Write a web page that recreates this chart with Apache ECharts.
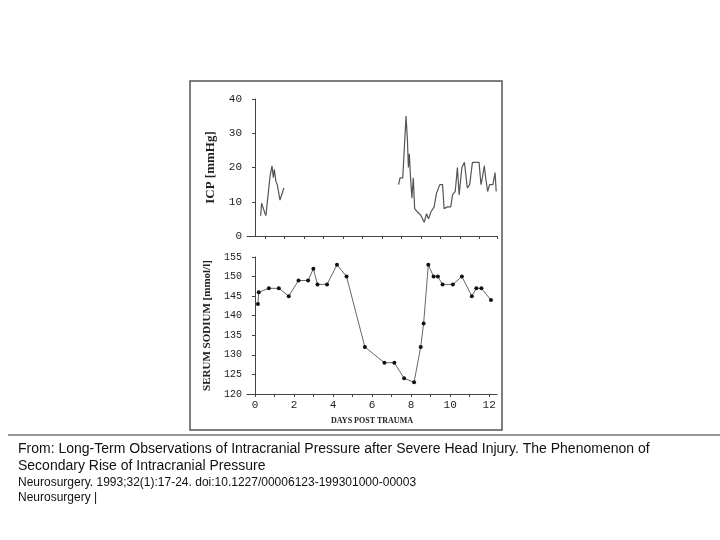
<!DOCTYPE html>
<html><head><meta charset="utf-8">
<script src="https://cdn.jsdelivr.net/npm/echarts@6/dist/echarts.min.js"></script>
<style>html,body{margin:0;padding:0;background:#fff}#c{width:720px;height:540px}</style>
</head><body><div id="c"></div>
<script>
const icpSeg1 = [[0.29,5.9],[0.34,9.6],[0.43,10],[0.51,6.6],[0.56,6],[0.68,12.5],[0.77,17.4],[0.87,20.5],[0.94,17],[0.99,19.5],[1.07,16],[1.14,15],[1.28,10.5],[1.36,11],[1.48,14]];
const icpSeg2 = [[7.36,15],[7.43,17],[7.57,17],[7.65,17.5],[7.74,35],[7.81,28],[7.86,20],[7.91,24],[7.96,18],[8.04,11],[8.11,17],[8.18,8],[8.33,7],[8.50,6],[8.67,4],[8.79,6.5],[8.89,5],[9.01,7],[9.18,8.5],[9.30,12.5],[9.40,12],[9.47,15],[9.61,15],[9.69,8],[9.86,8.5],[10.03,8.5],[10.12,12],[10.26,13],[10.37,20],[10.46,12],[10.60,20],[10.73,21.5],[10.88,14],[11.00,15],[11.14,21.5],[11.48,21.5],[11.58,15],[11.65,17],[11.75,20.5],[11.82,17],[11.92,13],[12.02,15],[12.19,15],[12.30,18.5],[12.36,13]];
const sodium = [[0.15,143],[0.19,146],[0.71,147],[1.22,147],[1.73,145],[2.23,149],[2.72,149],[2.99,152],[3.20,148],[3.69,148],[4.20,153],[4.69,150],[5.63,132],[6.63,128],[7.14,128],[7.64,124],[8.15,123],[8.49,132],[8.64,138],[8.88,153],[9.15,150],[9.37,150],[9.61,148],[10.14,148],[10.60,150],[11.11,145],[11.34,147],[11.60,147],[12.09,144]];
const xLabels = [0,2,4,6,8,10,12];
const topTicks = [0.5,1.5,2.5,3.5,4.5,5.5,6.5,7.5,8.5,9.5,10.5,11.5,12.4];
const bottomTicks = [0,1,2,3,4,5,6,7,8,9,10,11,12];

const ax = '#444', font = 'Liberation Mono';
const chart = echarts.init(document.getElementById('c'));
chart.setOption({
  animation:false,
  graphic:[
    {type:'rect',shape:{x:190,y:81,width:312,height:349},style:{fill:'none',stroke:'#555',lineWidth:1.5}},
    {type:'line',shape:{x1:8,y1:435,x2:720,y2:435},style:{stroke:'#333',lineWidth:1}},
    {type:'text',left:18,top:441,style:{text:'From: Long-Term Observations of Intracranial Pressure after Severe Head Injury. The Phenomenon of\nSecondary Rise of Intracranial Pressure',font:'14px Liberation Sans',fill:'#111',lineHeight:17}},
    {type:'text',left:18,top:475,style:{text:'Neurosurgery. 1993;32(1):17-24. doi:10.1227/00006123-199301000-00003\nNeurosurgery |',font:'12px Liberation Sans',fill:'#111',lineHeight:15}}
  ],
  grid:[
    {left:247,width:250,top:99,height:137},
    {left:247,width:250,top:257,height:137}
  ],
  xAxis:[
    {gridIndex:0,type:'value',min:-0.41,max:12.4,axisLine:{lineStyle:{color:ax}},
     axisTick:{customValues:topTicks,length:3,lineStyle:{color:ax}},axisLabel:{show:false},splitLine:{show:false}},
    {gridIndex:1,type:'value',min:-0.41,max:12.4,name:'DAYS POST TRAUMA',nameLocation:'middle',nameGap:23,
     nameTextStyle:{fontFamily:'Liberation Serif',fontSize:8,fontWeight:'bold',color:'#222'},
     axisLine:{lineStyle:{color:ax}},axisTick:{customValues:bottomTicks,length:3,lineStyle:{color:ax}},
     axisLabel:{customValues:xLabels,fontFamily:font,fontSize:11,color:'#222',margin:6},splitLine:{show:false}}
  ],
  yAxis:[
    {gridIndex:0,type:'value',min:0,max:40,interval:10,name:'ICP [mmHg]',nameLocation:'middle',nameGap:30,
     nameTextStyle:{fontFamily:'Liberation Serif',fontSize:13,fontWeight:'bold',color:'#222'},
     axisLine:{show:true,lineStyle:{color:ax}},axisTick:{show:true,length:3,lineStyle:{color:ax}},
     axisLabel:{fontFamily:font,fontSize:11,color:'#222',margin:5},splitLine:{show:false}},
    {gridIndex:1,type:'value',min:120,max:155,interval:5,name:'SERUM SODIUM [mmol/l]',nameLocation:'middle',nameGap:34,
     nameTextStyle:{fontFamily:'Liberation Serif',fontSize:11,fontWeight:'bold',color:'#222'},
     axisLine:{show:true,lineStyle:{color:ax}},axisTick:{show:true,length:3,lineStyle:{color:ax}},
     axisLabel:{fontFamily:font,fontSize:10,color:'#222',margin:5},splitLine:{show:false}}
  ],
  series:[
    {type:'line',xAxisIndex:0,yAxisIndex:0,data:icpSeg1,showSymbol:false,lineStyle:{color:'#555',width:1.2}},
    {type:'line',xAxisIndex:0,yAxisIndex:0,data:icpSeg2,showSymbol:false,lineStyle:{color:'#555',width:1.2}},
    {type:'line',xAxisIndex:1,yAxisIndex:1,data:sodium,symbol:'circle',symbolSize:4,
     itemStyle:{color:'#111'},lineStyle:{color:'#666',width:1}}
  ]
});
</script></body></html>
